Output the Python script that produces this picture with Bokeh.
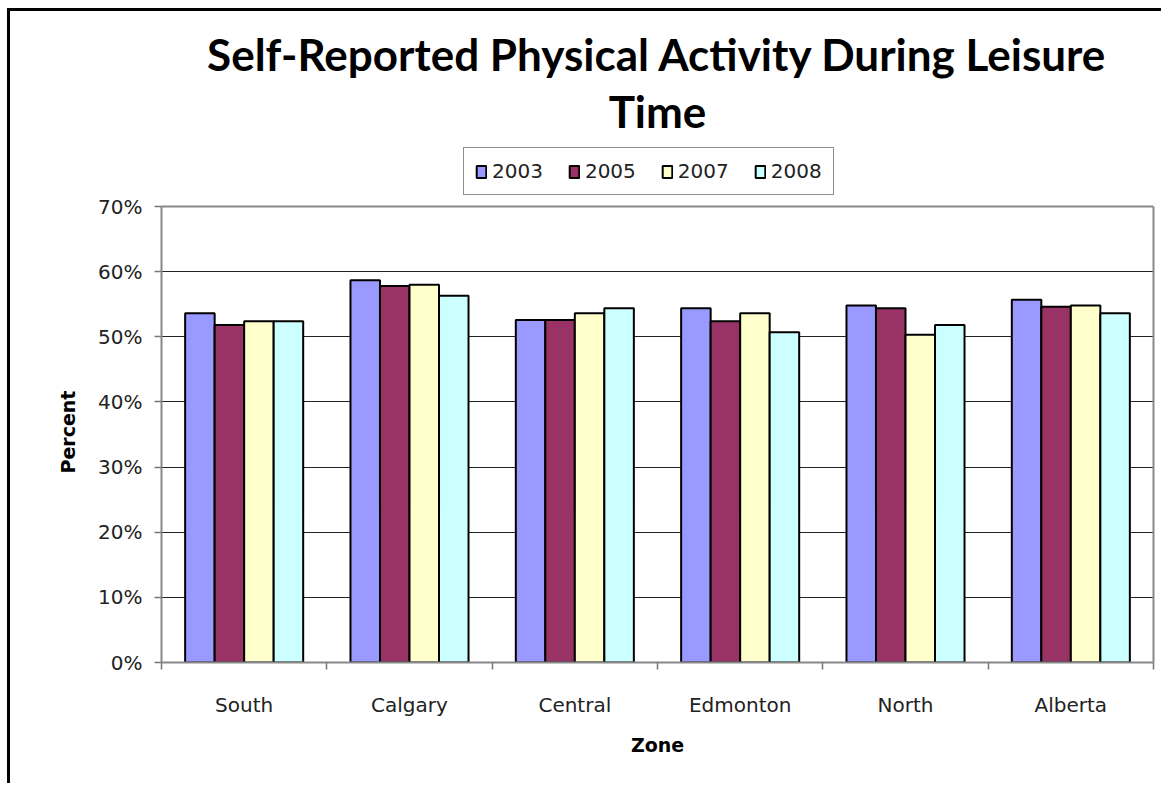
from bokeh.plotting import figure
from bokeh.models import (Range1d, FixedTicker, NumeralTickFormatter, Legend, LegendItem,
                          ColumnDataSource, Title, Grid, LinearAxis)
from bokeh.transform import dodge
from bokeh.embed import file_html
from bokeh.resources import INLINE

zones = ["South", "Calgary", "Central", "Edmonton", "North", "Alberta"]
years = ["2003", "2005", "2007", "2008"]
y2003 = [0.536, 0.587, 0.526, 0.544, 0.548, 0.557]
y2005 = [0.518, 0.578, 0.526, 0.524, 0.544, 0.546]
y2007 = [0.524, 0.580, 0.536, 0.536, 0.503, 0.548]
y2008 = [0.524, 0.563, 0.544, 0.507, 0.518, 0.536]
colors = ["#9999FF", "#993366", "#FFFFCC", "#CCFFFF"]
y_ticks = [0.0, 0.1, 0.2, 0.3, 0.4, 0.5, 0.6, 0.7]
y_max = 0.7
title_lines = ["Self-Reported Physical Activity During Leisure", "Time"]
y_label = "Percent"
x_label = "Zone"

centers = [i + 0.5 for i in range(len(zones))]
source = ColumnDataSource(dict(x=centers, zone=zones, y2003=y2003, y2005=y2005,
                               y2007=y2007, y2008=y2008))

# the frame extends above 70% to hold the legend; axes are bounded to 0-70%
p = figure(width=1154, height=775, output_backend="svg", toolbar_location=None,
           x_range=Range1d(0, len(zones)), y_range=Range1d(0, 0.806),
           min_border_left=151, min_border_right=11, min_border_top=126,
           min_border_bottom=124,
           styles={"border-left": "3px solid black", "border-top": "3px solid black",
                   "margin-left": "7px", "margin-top": "8px"})

p.title.text = title_lines[0]
p.title.text_font = "Lato"
p.title.text_font_style = "bold"
p.title.text_font_size = "44px"
p.title.align = "center"
p.title.text_color = "black"
p.title.standoff = 4

t2 = Title(text=title_lines[1], text_font="Lato", text_font_style="bold",
           text_font_size="44px", align="center", text_color="black", standoff=2)
p.add_layout(t2, "above")

bw = 0.1785
renderers = []
for j, (yr, col, key) in enumerate(zip(years, colors, ["y2003", "y2005", "y2007", "y2008"])):
    r = p.vbar(x=dodge("x", (j - 1.5) * bw, range=p.x_range), top=key, width=bw,
               source=source, fill_color=col, line_color="black", line_width=2)
    renderers.append(r)

legend = Legend(items=[LegendItem(label=yr, renderers=[r]) for yr, r in zip(years, renderers)],
                orientation="horizontal", location=(302, 467),
                label_text_font="DejaVu Sans", label_text_font_size="20px",
                label_text_color="#222222", glyph_width=12, glyph_height=15,
                label_standoff=5, spacing=25, padding=11, margin=0,
                border_line_color="#222222", border_line_width=1,
                background_fill_alpha=1.0)
p.add_layout(legend)

# x axis: labels at category centres, tick marks at category boundaries
xa = p.xaxis[0]
xa.ticker = FixedTicker(ticks=centers, minor_ticks=list(range(len(zones) + 1)))
xa.major_label_overrides = {c: z for c, z in zip(centers, zones)}
xa.major_tick_out = 0
xa.major_tick_in = 0
xa.minor_tick_out = 7
xa.minor_tick_in = 0
xa.minor_tick_line_color = "#777777"
xa.minor_tick_line_width = 1.5
xa.axis_line_color = "#888888"
xa.axis_line_width = 2
xa.major_label_text_font = "DejaVu Sans"
xa.major_label_text_font_size = "20px"
xa.major_label_text_color = "#222222"
xa.major_label_standoff = 23
xa.axis_label = x_label
xa.axis_label_text_font = "DejaVu Sans"
xa.axis_label_text_font_style = "bold"
xa.axis_label_text_font_size = "19px"
xa.axis_label_text_color = "black"
xa.axis_label_standoff = 14

ya = p.yaxis[0]
ya.bounds = (0, y_max)
ya.ticker = FixedTicker(ticks=y_ticks)
ya.formatter = NumeralTickFormatter(format="0%")
ya.major_tick_out = 7
ya.major_tick_in = 0
ya.minor_tick_out = 0
ya.minor_tick_in = 0
ya.major_tick_line_color = "#777777"
ya.major_tick_line_width = 1.5
ya.axis_line_color = "#888888"
ya.axis_line_width = 2
ya.major_label_text_font = "DejaVu Sans"
ya.major_label_text_font_size = "20px"
ya.major_label_text_color = "#222222"
ya.major_label_standoff = 12

# y axis title, placed along the 0-70% part of the frame
yt = Title(text=y_label, text_font="DejaVu Sans", text_font_style="bold",
           text_font_size="19px", text_color="black", align="left",
           offset=189, standoff=33)
p.add_layout(yt, "left")

# right edge of the plot area, drawn as a bare axis
ra = LinearAxis(bounds=(0, y_max), ticker=FixedTicker(ticks=[]),
                major_label_text_font_size="0px", major_tick_line_color=None,
                minor_tick_line_color=None, major_tick_out=0, major_tick_in=0,
                minor_tick_out=0, minor_tick_in=0,
                axis_line_color="#888888", axis_line_width=2, major_label_standoff=0)
p.add_layout(ra, "right")

p.xgrid.grid_line_color = None
p.ygrid.ticker = FixedTicker(ticks=y_ticks[1:-1])
p.ygrid.grid_line_color = "#222222"
p.ygrid.grid_line_width = 1.2
top_grid = Grid(dimension=1, ticker=FixedTicker(ticks=[y_max]),
                grid_line_color="#888888", grid_line_width=2)
p.add_layout(top_grid)
p.outline_line_color = None
p.background_fill_color = "white"
p.border_fill_color = "white"

open("out.html", "w").write(file_html(p, INLINE))
